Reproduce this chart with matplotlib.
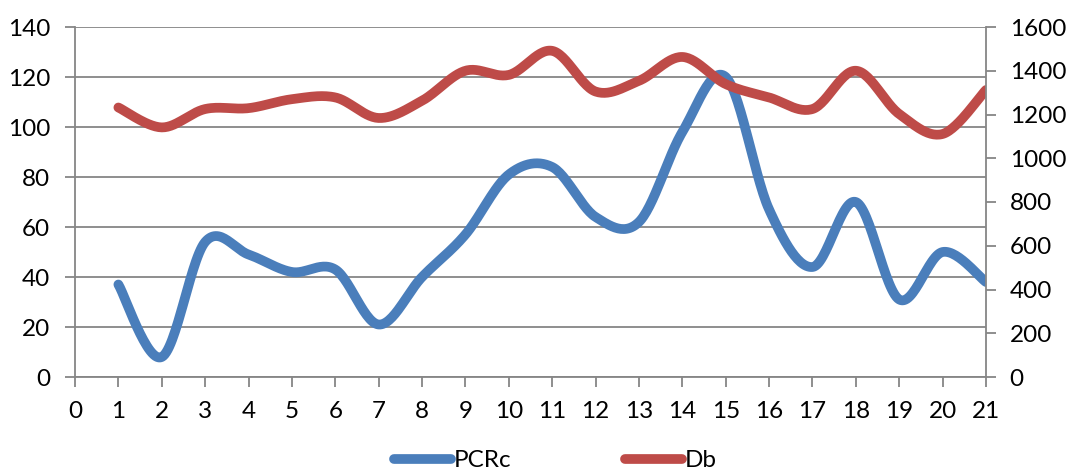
import numpy as np
import matplotlib.pyplot as plt

x_vals = list(range(1, 22))
pcrc = [37, 8, 54, 49, 42, 43, 21, 40, 57, 81, 84, 64, 62, 98, 120, 67, 44, 70, 31, 50, 38]
db = [1232, 1141, 1225, 1229, 1270, 1278, 1184, 1263, 1400, 1381, 1491, 1305, 1354, 1463,
      1339, 1278, 1225, 1400, 1202, 1111, 1312]

left_ticks = list(range(0, 141, 20))
right_ticks = list(range(0, 1601, 200))
x_ticks = list(range(0, 22))

BLUE = "#4A7EBB"
RED = "#BE4B48"
GRID = "#868686"


def smooth(xs, ys, n=30):
    # Catmull-Rom curve through the points, like Excel's smoothed line
    xs = np.asarray(xs, float)
    ys = np.asarray(ys, float)
    px = np.concatenate([[xs[0]], xs, [xs[-1]]])
    py = np.concatenate([[ys[0]], ys, [ys[-1]]])
    out_x, out_y = [], []
    t = np.linspace(0, 1, n)
    for i in range(1, len(px) - 2):
        x0, x1, x2, x3 = px[i - 1:i + 3]
        y0, y1, y2, y3 = py[i - 1:i + 3]
        cx1, cy1 = x1 + (x2 - x0) / 6, y1 + (y2 - y0) / 6
        cx2, cy2 = x2 - (x3 - x1) / 6, y2 - (y3 - y1) / 6
        bx = (1 - t) ** 3 * x1 + 3 * (1 - t) ** 2 * t * cx1 + 3 * (1 - t) * t ** 2 * cx2 + t ** 3 * x2
        by = (1 - t) ** 3 * y1 + 3 * (1 - t) ** 2 * t * cy1 + 3 * (1 - t) * t ** 2 * cy2 + t ** 3 * y2
        out_x.extend(bx)
        out_y.extend(by)
    return np.array(out_x), np.array(out_y)


plt.rcParams['font.family'] = ['Lato', 'DejaVu Sans']

fig = plt.figure(figsize=(10.68, 4.7), dpi=100)
ax = fig.add_axes([75 / 1068, 1 - 377 / 470, (986 - 75) / 1068, 350 / 470])
ax2 = ax.twinx()

sx, sy = smooth(x_vals, pcrc)
l1, = ax.plot(sx, sy, color=BLUE, lw=7, solid_capstyle='round', label="PCRc")
sx, sy = smooth(x_vals, db)
l2, = ax2.plot(sx, sy, color=RED, lw=7, solid_capstyle='round', label="Db")

ax.set_xlim(0, 21)
ax.set_ylim(0, 140)
ax2.set_ylim(0, 1600)
ax.set_xticks(x_ticks)
ax.set_yticks(left_ticks)
ax2.set_yticks(right_ticks)

ax.grid(axis='y', color=GRID, lw=1.3)
ax.set_axisbelow(True)

for a in (ax, ax2):
    for s in a.spines.values():
        s.set_visible(False)
ax.spines['left'].set_visible(True)
ax.spines['bottom'].set_visible(True)
ax2.spines['right'].set_visible(True)
for s in (ax.spines['left'], ax.spines['bottom'], ax2.spines['right']):
    s.set_color(GRID)
    s.set_linewidth(1.3)

FS = 17.5
ax.tick_params(axis='both', colors=GRID, labelcolor='black', length=7, width=1.3,
               labelsize=FS)
ax.tick_params(axis='x', pad=10)
ax.tick_params(axis='y', pad=11)
ax2.tick_params(axis='y', colors=GRID, labelcolor='black', length=7, width=1.3,
                labelsize=FS, pad=10)

fig.legend([l1, l2], ["PCRc", "Db"], loc='center', bbox_to_anchor=(0.52, 0.02),
           ncol=2, frameon=False, fontsize=FS, handlelength=2.35, handletextpad=0.1,
           columnspacing=4.7)

fig.savefig("out.png", dpi=100)
